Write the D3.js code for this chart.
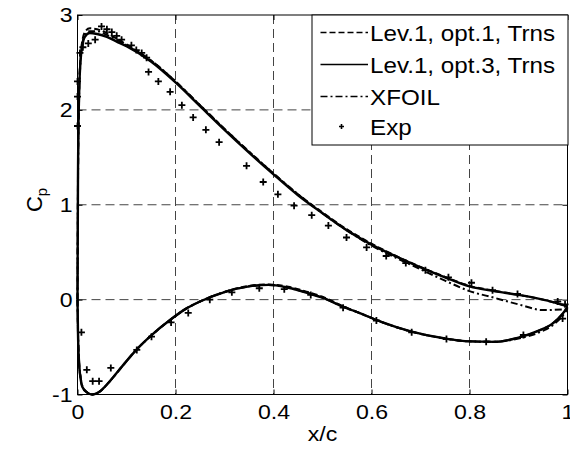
<!DOCTYPE html>
<html>
<head>
<meta charset="utf-8">
<script src="https://cdnjs.cloudflare.com/ajax/libs/d3/7.8.5/d3.min.js"></script>
<style>
  body { margin: 0; background: #fff; }
  text { font-family: "Liberation Sans", Arial, sans-serif; fill: #000; }
</style>
</head>
<body>
<div id="chart-area"></div>
<script>
// upper surface (suction side), x/c and Cp for each solver
var upperX     = [0, 0.001, 0.003, 0.006, 0.01, 0.015, 0.025, 0.04, 0.06, 0.08, 0.1, 0.15, 0.2, 0.25, 0.3, 0.35, 0.4, 0.45, 0.5, 0.55, 0.6, 0.65, 0.7, 0.75, 0.8, 0.85, 0.9, 0.95, 1.0]
var upperOpt3  = [0, 1.3, 2.1, 2.5, 2.68, 2.77, 2.81, 2.8, 2.77, 2.72, 2.67, 2.51, 2.29, 2.04, 1.79, 1.55, 1.32, 1.1, 0.91, 0.73, 0.58, 0.455, 0.34, 0.235, 0.14, 0.09, 0.05, 0.0, -0.07]
var upperOpt1  = [0, 1.3, 2.15, 2.55, 2.73, 2.82, 2.86, 2.85, 2.81, 2.75, 2.69, 2.52, 2.3, 2.05, 1.8, 1.56, 1.33, 1.11, 0.92, 0.74, 0.59, 0.46, 0.345, 0.24, 0.145, 0.095, 0.05, 0.0, -0.07]
var upperXfoil = [0, 1.2, 2.05, 2.5, 2.7, 2.79, 2.83, 2.83, 2.79, 2.74, 2.68, 2.52, 2.3, 2.05, 1.8, 1.56, 1.33, 1.11, 0.91, 0.73, 0.57, 0.44, 0.32, 0.2, 0.09, 0.02, -0.05, -0.11, -0.1]

// lower surface
var lowerX     = [0, 0.001, 0.003, 0.006, 0.01, 0.02, 0.03, 0.045, 0.066, 0.09, 0.12, 0.15, 0.19, 0.22, 0.25, 0.3, 0.35, 0.39, 0.43, 0.47, 0.5, 0.54, 0.58, 0.62, 0.68, 0.75, 0.8, 0.85, 0.9, 0.94, 0.97, 0.99, 1.0]
var lowerOpt3  = [0, -0.35, -0.65, -0.82, -0.92, -0.98, -1.0, -0.97, -0.86, -0.71, -0.53, -0.38, -0.21, -0.1, -0.02, 0.08, 0.14, 0.155, 0.125, 0.07, 0.02, -0.07, -0.15, -0.235, -0.335, -0.41, -0.44, -0.445, -0.4, -0.33, -0.25, -0.15, -0.08]
var lowerOpt1  = [0, -0.35, -0.65, -0.82, -0.92, -0.98, -1.0, -0.97, -0.86, -0.71, -0.53, -0.38, -0.21, -0.1, -0.02, 0.08, 0.145, 0.16, 0.135, 0.08, 0.03, -0.065, -0.15, -0.235, -0.335, -0.41, -0.44, -0.445, -0.4, -0.33, -0.25, -0.15, -0.08]
var lowerXfoil = [0, -0.33, -0.63, -0.8, -0.91, -0.98, -1.0, -0.97, -0.86, -0.71, -0.53, -0.38, -0.21, -0.1, -0.02, 0.08, 0.14, 0.155, 0.125, 0.07, 0.02, -0.07, -0.15, -0.235, -0.335, -0.41, -0.44, -0.445, -0.41, -0.35, -0.27, -0.17, -0.1]

// experiment
var expX  = [0, 0, 0, 0.005, 0.011, 0.022, 0.036, 0.049, 0.06, 0.07, 0.08, 0.09, 0.11, 0.12, 0.131, 0.141, 0.145, 0.165, 0.189, 0.213, 0.236, 0.262, 0.289, 0.345, 0.379, 0.409, 0.442, 0.478, 0.512, 0.549, 0.59, 0.63, 0.67, 0.71, 0.757, 0.804, 0.847, 0.898, 0.98, 0.995,
             0.008, 0.019, 0.031, 0.044, 0.068, 0.121, 0.151, 0.191, 0.226, 0.27, 0.315, 0.371, 0.422, 0.476, 0.542, 0.61, 0.682, 0.753, 0.834, 0.91, 0.99]
var expCp = [2.3, 2.14, 1.83, 2.6, 2.66, 2.7, 2.74, 2.88, 2.85, 2.82, 2.78, 2.74, 2.68, 2.63, 2.6, 2.55, 2.4, 2.3, 2.19, 2.05, 1.92, 1.79, 1.66, 1.41, 1.24, 1.11, 0.99, 0.89, 0.78, 0.655, 0.55, 0.46, 0.385, 0.31, 0.235, 0.178, 0.1, 0.06, -0.02, -0.05,
             -0.345, -0.74, -0.86, -0.86, -0.72, -0.53, -0.39, -0.24, -0.14, 0.0, 0.077, 0.12, 0.11, 0.05, -0.085, -0.22, -0.345, -0.416, -0.443, -0.373, -0.2]

var xTicks = [0, 0.2, 0.4, 0.6, 0.8, 1]
var yTicks = [-1, 0, 1, 2, 3]
var legendLabels = ["Lev.1, opt.1, Trns", "Lev.1, opt.3, Trns", "XFOIL", "Exp"]

var margin = { left: 77.5, right: 2.5, top: 15, bottom: 54.5 }
var width = 570 - margin.left - margin.right,
    height = 449 - margin.top - margin.bottom
var stretch = "scale(1.1,1)"

var svg = d3.select("#chart-area")
    .append("svg")
    .attr("width", 570)
    .attr("height", 449)
var g = svg.append("g")
    .attr("transform", "translate(" + margin.left + "," + margin.top + ")")

var x = d3.scaleLinear().domain([0, 1]).range([0, width])
var y = d3.scaleLinear().domain([-1, 3]).range([height, 0])

// grid
g.append("g").selectAll("line.vg")
    .data(xTicks.slice(1, -1))
    .enter().append("line")
    .attr("x1", d => x(d)).attr("x2", d => x(d))
    .attr("y1", 0).attr("y2", height)
    .attr("stroke", "#444").attr("stroke-dasharray", "9,5")
g.append("g").selectAll("line.hg")
    .data(yTicks.slice(1, -1))
    .enter().append("line")
    .attr("y1", d => y(d)).attr("y2", d => y(d))
    .attr("x1", 0).attr("x2", width)
    .attr("stroke", "#444").attr("stroke-dasharray", "9,5")

// curves
function series(xs, ys) { return xs.map((v, i) => [v, ys[i]]) }
var line = d3.line()
    .x(d => x(d[0]))
    .y(d => y(d[1]))
    .curve(d3.curveMonotoneX)

var curves = [
    { up: upperXfoil, lo: lowerXfoil, dash: "7,3,2,3", w: 2 },
    { up: upperOpt1, lo: lowerOpt1, dash: "6,3", w: 2 },
    { up: upperOpt3, lo: lowerOpt3, dash: null, w: 2.4 }
]
curves.forEach(c => {
    [series(upperX, c.up), series(lowerX, c.lo)].forEach(s => {
        g.append("path")
            .attr("d", line(s))
            .attr("fill", "none")
            .attr("stroke", "#000")
            .attr("stroke-width", c.w)
            .attr("stroke-dasharray", c.dash)
    })
})

// plus marker as a d3 symbol type
var plus = {
    draw: function(ctx, size) {
        var r = Math.sqrt(size) / 2
        ctx.moveTo(-r, 0); ctx.lineTo(r, 0)
        ctx.moveTo(0, -r); ctx.lineTo(0, r)
    }
}
g.append("g").selectAll("path")
    .data(series(expX, expCp))
    .enter().append("path")
    .attr("transform", d => "translate(" + x(d[0]) + "," + y(d[1]) + ")")
    .attr("d", d3.symbol(plus, 49))
    .attr("stroke", "#000")
    .attr("stroke-width", 1.8)
    .attr("fill", "none")

// axes with inward ticks
var fmt = d => String(d)
g.append("g")
    .attr("transform", "translate(0," + height + ")")
    .call(d3.axisBottom(x).tickValues(xTicks).tickFormat(fmt).tickSizeInner(-5).tickSizeOuter(0).tickPadding(10))
g.append("g")
    .call(d3.axisLeft(y).tickValues(yTicks).tickFormat(fmt).tickSizeInner(-5).tickSizeOuter(0).tickPadding(4.5))
g.append("g")
    .call(d3.axisTop(x).tickValues(xTicks).tickFormat("").tickSizeInner(-5).tickSizeOuter(0))
g.append("g")
    .attr("transform", "translate(" + width + ",0)")
    .call(d3.axisRight(y).tickValues(yTicks).tickFormat("").tickSizeInner(-5).tickSizeOuter(0))
g.selectAll(".domain").remove()
g.selectAll(".tick line").attr("stroke", "#000")
g.selectAll(".tick text")
    .attr("font-size", "21px")
    .attr("font-family", "Liberation Sans, Arial, sans-serif")
    .attr("transform", stretch)

g.append("rect")
    .attr("width", width).attr("height", height)
    .attr("fill", "none").attr("stroke", "#000").attr("stroke-width", 1)

// axis labels
svg.append("text")
    .attr("transform", "translate(" + (margin.left + width / 2) + ",441) " + stretch)
    .attr("text-anchor", "middle")
    .attr("font-size", "21px")
    .text("x/c")
var yLabel = svg.append("text")
    .attr("transform", "translate(42,200) rotate(-90)")
    .attr("text-anchor", "middle")
    .attr("font-size", "22px")
yLabel.append("tspan").text("C")
yLabel.append("tspan").attr("font-size", "15px").attr("dy", 5).text("p")

// legend
var lg = svg.append("g")
lg.append("rect")
    .attr("x", 312).attr("y", 15)
    .attr("width", 568 - 312).attr("height", 130)
    .attr("fill", "#fff").attr("stroke", "#000")
var rowBase = [40.5, 72.5, 104.5, 134.5]
var legendDash = ["6,3", null, "7,3,2,3"]
legendLabels.forEach((lab, i) => {
    var cy = rowBase[i] - 8
    if (i < 3) {
        lg.append("line")
            .attr("x1", 320.5).attr("x2", 368)
            .attr("y1", cy).attr("y2", cy)
            .attr("stroke", "#000").attr("stroke-width", 1.5)
            .attr("stroke-dasharray", legendDash[i])
    } else {
        lg.append("path")
            .attr("transform", "translate(341.5," + cy + ")")
            .attr("d", d3.symbol(plus, 25))
            .attr("stroke", "#000").attr("stroke-width", 1.6)
    }
    lg.append("text")
        .attr("transform", "translate(370," + rowBase[i] + ") " + stretch)
        .attr("font-size", "22px")
        .text(lab)
})
</script>
</body>
</html>
